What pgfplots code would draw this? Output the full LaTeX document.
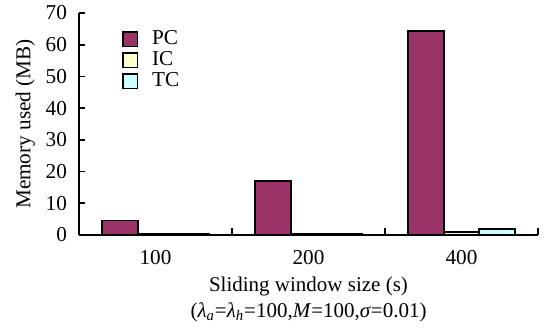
\documentclass[border=0pt]{standalone}
\usepackage{fontspec}
\setmainfont{Liberation Serif}
\usepackage{pgfplots}
\pgfplotsset{compat=1.18}
\definecolor{pcc}{RGB}{153,51,102}
\definecolor{icc}{RGB}{255,255,204}
\definecolor{tcc}{RGB}{204,255,255}
\begin{document}
\begin{tikzpicture}
\path[use as bounding box] (-39.5pt,-46pt) rectangle (232.5pt,117.5pt);
\begin{axis}[
  at={(0,0)}, anchor=south west,
  scale only axis, width=229.5pt, height=111pt,
  xmin=-0.5, xmax=2.5, ymin=0, ymax=70,
  axis lines=left, axis line style={-, line width=1pt},
  ybar=0pt, bar width=17.8pt,
  xtick={0,1,2}, xticklabels={100,200,400},
  major x tick style={draw=none},
  minor xtick={0.5,1.5,2.5},
  minor tick length=3.5pt,
  ytick={0,10,...,70},
  major tick length=3pt,
  tick style={line width=0.8pt, black},
  tick align=inside,
  /pgf/number format/assume math mode=true,
  tick label style={font=\fontsize{10.6}{12}\selectfont},
  yticklabel style={xshift=-2.5pt},
  xticklabel style={yshift=-4pt},
  ylabel={Memory used (MB)},
  ylabel style={font=\fontsize{10.6}{12}\selectfont, yshift=-1.5pt},
  xlabel={Sliding window size (s)\\(\textit{λ}\textsubscript{\textit{a}}=\textit{λ}\textsubscript{\textit{h}}=100,\textit{M}=100,\textit{σ}=0.01)},
  xlabel style={font=\fontsize{10.5}{13}\selectfont, align=center, yshift=0.5pt},
  legend style={draw=none, fill=none, at={(0.08,0.958)}, anchor=north west,
    font=\fontsize{10.6}{12}\selectfont, row sep=-2pt,
    /tikz/every odd column/.append style={column sep=5pt}},
  legend cell align=left,
  legend image code/.code={\draw[#1, line width=0.8pt] (0pt,-3.6pt) rectangle (7.2pt,3.6pt);},
]
\addplot[fill=pcc, draw=black, line width=0.9pt] coordinates {(0,4.6) (1,17.1) (2,64.3)};
\addplot[fill=icc, draw=black, line width=0.9pt] coordinates {(0,0.35) (1,0.35) (2,1.0)};
\addplot[fill=tcc, draw=black, line width=0.9pt] coordinates {(0,0.35) (1,0.35) (2,1.8)};
\legend{PC,IC,TC}
\end{axis}
\end{tikzpicture}
\end{document}
